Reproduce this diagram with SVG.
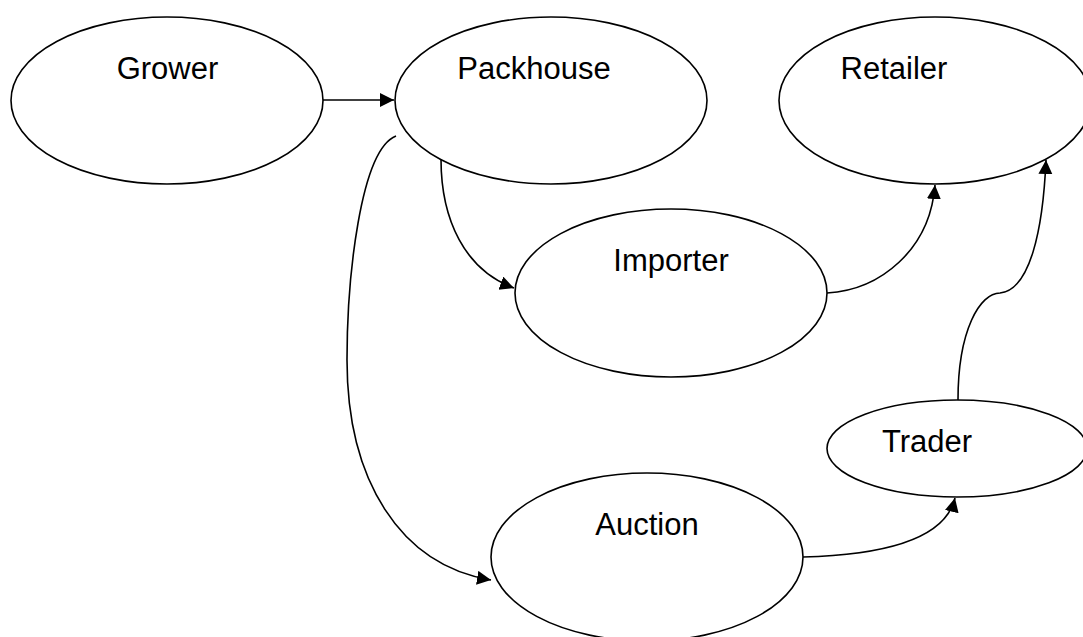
<svg xmlns="http://www.w3.org/2000/svg" width="1083" height="637" viewBox="0 0 1083 637">
  <style>
    .node { fill: #ffffff; stroke: #000000; stroke-width: 1.6; }
    .label { font-family: "Liberation Sans", Arial, sans-serif; font-size: 31px; fill: #000000; text-anchor: middle; }
    .edge { fill: none; stroke: #000000; stroke-width: 1.6; marker-end: url(#arrow); }
  </style>
  <defs>
    <marker id="arrow" markerUnits="userSpaceOnUse" markerWidth="15" markerHeight="15" refX="14" refY="7" orient="auto">
      <path d="M0,0 L14,7 L0,14 Z" fill="#000000"/>
    </marker>
  </defs>

  <rect width="1083" height="637" fill="#ffffff"/>

  <g id="grower">
    <ellipse class="node" cx="167" cy="100.5" rx="156" ry="83.5"/>
    <text class="label" x="167.5" y="79">Grower</text>
  </g>
  <g id="packhouse">
    <ellipse class="node" cx="551" cy="100.5" rx="156" ry="83.5"/>
    <text class="label" x="534" y="79">Packhouse</text>
  </g>
  <g id="retailer">
    <ellipse class="node" cx="935" cy="100.5" rx="156" ry="83.5"/>
    <text class="label" x="894" y="79">Retailer</text>
  </g>
  <g id="importer">
    <ellipse class="node" cx="671" cy="293" rx="156" ry="84"/>
    <text class="label" x="671" y="271">Importer</text>
  </g>
  <g id="trader">
    <ellipse class="node" cx="957" cy="448.5" rx="130" ry="48.5"/>
    <text class="label" x="927" y="452">Trader</text>
  </g>
  <g id="auction">
    <ellipse class="node" cx="647" cy="557" rx="156" ry="84"/>
    <text class="label" x="647" y="535">Auction</text>
  </g>

  <g id="connectors">
    <path class="edge" d="M323,100 L394,100"/>
    <path class="edge" d="M441,159 C441,220 465,270 514,288"/>
    <path class="edge" d="M396,136 C360,150 347,280 347,360 C347,480 400,565 491,580"/>
    <path class="edge" d="M827,293 C880,290 930,250 935,185"/>
    <path class="edge" d="M958,400 C958,330 980,293 1000,293 C1030,290 1043,230 1046,160"/>
    <path class="edge" d="M803,557 C880,555 945,540 955,498"/>
  </g>
</svg>
